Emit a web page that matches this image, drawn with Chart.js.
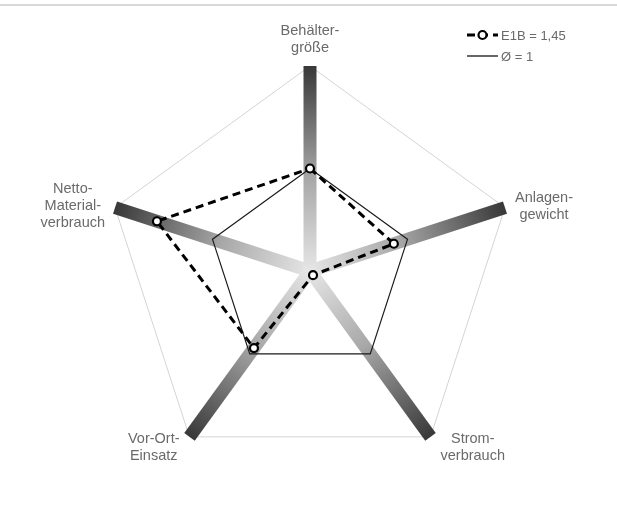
<!DOCTYPE html>
<html>
<head>
<meta charset="utf-8">
<script src="https://cdn.jsdelivr.net/npm/chart.js@4/dist/chart.umd.min.js"></script>
<style>
    body { margin: 0; background: #fff; }
    canvas { display: block; }
</style>
</head>
<body>
<canvas id="radarChart" width="617" height="521"></canvas>
<script>
// Kategorien (Achsen, im Uhrzeigersinn ab oben)
const categories = [
    ['Behälter-', 'größe'],
    ['Anlagen-', 'gewicht'],
    ['Strom-', 'verbrauch'],
    ['Vor-Ort-', 'Einsatz'],
    ['Netto-', 'Material-', 'verbrauch']
];

// Werte
const e1bValues = [1.0, 0.86, 0.05, 0.93, 1.57];
const avgValues = [1, 1, 1, 1, 1];

const seriesLabels = ['E1B = 1,45', 'Ø = 1'];
const scaleMax = 2;

const textColor = '#6a6a6a';
const labelFont = '14.5px "Liberation Sans", Arial, sans-serif';
const legendFont = '13px "Liberation Sans", Arial, sans-serif';

// Achsen als Balken mit Verlauf (hell in der Mitte, dunkel außen)
function axisGradient(ctx) {
    const scale = ctx.scale;
    const end = scale.getPointPositionForValue(ctx.index, scaleMax);
    const g = ctx.chart.ctx.createLinearGradient(scale.xCenter, scale.yCenter, end.x, end.y);
    g.addColorStop(0, '#e6e6e6');
    g.addColorStop(0.45, '#a8a8a8');
    g.addColorStop(1, '#383838');
    return g;
}

// Oberer Rahmen
const framePlugin = {
    id: 'frame',
    beforeDraw(chart) {
        const c = chart.ctx;
        c.save();
        c.strokeStyle = '#d9d9d9';
        c.lineWidth = 2;
        c.beginPath();
        c.moveTo(0, 5);
        c.lineTo(chart.width, 5);
        c.stroke();
        c.restore();
    }
};

// Achsenbeschriftungen, zentriert
const pointLabelPlugin = {
    id: 'centeredPointLabels',
    afterDatasetsDraw(chart) {
        const scale = chart.scales.r;
        const c = chart.ctx;
        const lineHeight = 17;
        c.save();
        c.font = labelFont;
        c.fillStyle = textColor;
        c.textAlign = 'center';
        c.textBaseline = 'alphabetic';
        categories.forEach((lines, i) => {
            const p = scale.getPointPositionForValue(i, scaleMax);
            const w = Math.max(...lines.map(l => c.measureText(l).width));
            const blockH = lines.length * lineHeight;
            let cx, top;
            if (Math.abs(p.x - scale.xCenter) < 2) {
                cx = p.x;
                top = p.y - 10 - blockH;
            } else {
                cx = p.x > scale.xCenter ? p.x + 10 + w / 2 : p.x - 10 - w / 2;
                top = p.y > scale.yCenter ? p.y - 7 : p.y - blockH / 2 - 2;
            }
            lines.forEach((l, k) => {
                c.fillText(l, cx, top + 13 + k * lineHeight);
            });
        });
        c.restore();
    }
};

// Legende oben rechts
const legendPlugin = {
    id: 'cornerLegend',
    afterDraw(chart) {
        const c = chart.ctx;
        const x0 = 467, x1 = 498;
        c.save();
        c.font = legendFont;
        c.fillStyle = textColor;
        c.textBaseline = 'middle';
        chart.data.datasets.forEach((ds, i) => {
            const y = 35 + i * 21;
            c.strokeStyle = '#000';
            c.lineWidth = ds.borderWidth;
            c.setLineDash(ds.borderDash || []);
            c.beginPath();
            c.moveTo(x0, y);
            c.lineTo(x1, y);
            c.stroke();
            c.setLineDash([]);
            if (ds.pointRadius) {
                c.fillStyle = '#fff';
                c.lineWidth = ds.pointBorderWidth;
                c.beginPath();
                c.arc((x0 + x1) / 2, y, ds.pointRadius, 0, Math.PI * 2);
                c.fill();
                c.stroke();
            }
            c.fillStyle = textColor;
            c.fillText(ds.label, x1 + 3, y + 1);
        });
        c.restore();
    }
};

const chart = new Chart(document.getElementById('radarChart'), {
    type: 'radar',
    data: {
        labels: categories,
        datasets: [
            {
                label: seriesLabels[0],
                data: e1bValues,
                borderColor: '#000',
                borderWidth: 3,
                borderDash: [8, 5],
                fill: false,
                pointRadius: 4,
                pointBorderWidth: 2.2,
                pointBackgroundColor: '#fff',
                pointBorderColor: '#000'
            },
            {
                label: seriesLabels[1],
                data: avgValues,
                borderColor: '#1a1a1a',
                borderWidth: 1.2,
                fill: false,
                pointRadius: 0
            }
        ]
    },
    options: {
        responsive: false,
        animation: false,
        layout: {
            padding: { left: 105, right: 102, top: 66, bottom: 45 }
        },
        plugins: {
            legend: { display: false },
            tooltip: { enabled: false }
        },
        elements: {
            line: { tension: 0 }
        },
        scales: {
            r: {
                min: 0,
                max: scaleMax,
                ticks: { display: false, stepSize: 2 },
                pointLabels: { display: false },
                grid: { color: '#d4d4d4', lineWidth: 1 },
                angleLines: {
                    lineWidth: 13,
                    color: axisGradient
                }
            }
        }
    },
    plugins: [framePlugin, pointLabelPlugin, legendPlugin]
});
</script>
</body>
</html>
